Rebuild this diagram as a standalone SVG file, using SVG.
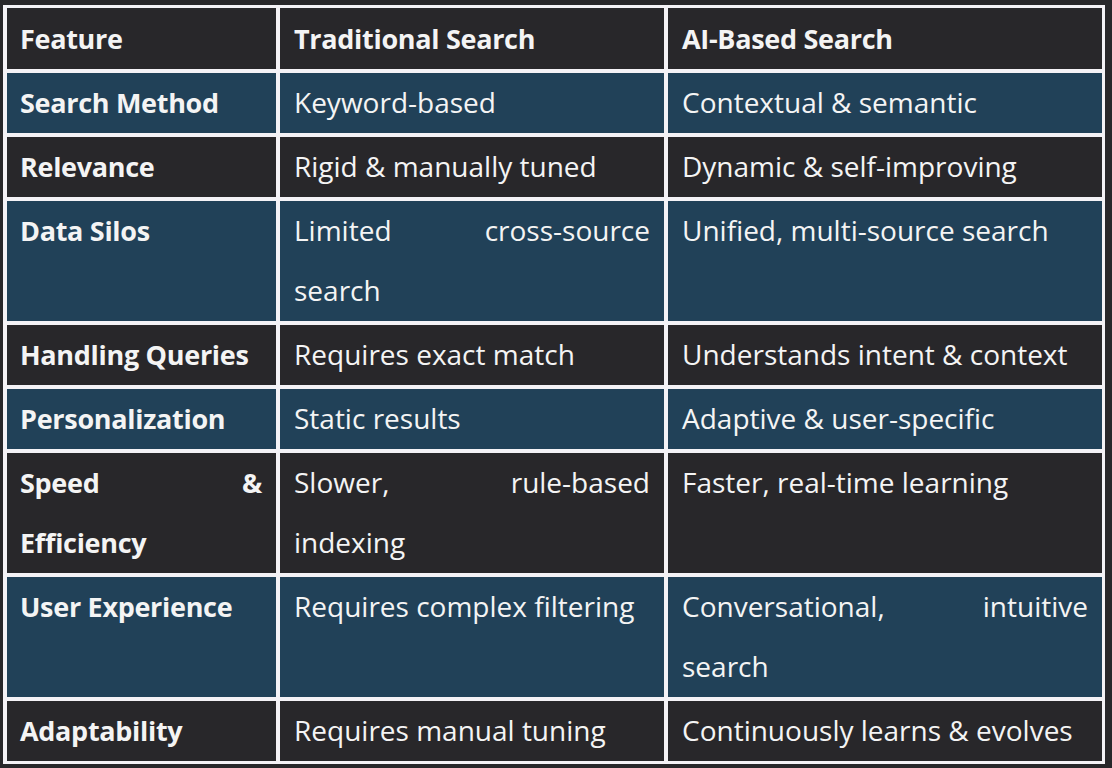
<svg xmlns="http://www.w3.org/2000/svg" width="1112" height="768" viewBox="0 0 1112 768">
<style>
.bg{fill:#28272a}
.grid{fill:#f4f2f6}
.dk{fill:#28272a}
.bl{fill:#214158}
text{font-family:"Open Sans","Noto Sans","DejaVu Sans",sans-serif;font-size:28px;fill:#f4f4f4}
.b{font-weight:bold;font-size:27px;letter-spacing:-0.3px}
.e{text-anchor:end}
</style>
<rect class="bg" x="0" y="0" width="1112" height="768"/>
<rect class="grid" x="3" y="5" width="1102" height="759"/>
<g id="header">
<rect class="dk" x="7" y="8" width="269" height="61"/>
<rect class="dk" x="280" y="8" width="384" height="61"/>
<rect class="dk" x="668" y="8" width="434" height="61"/>
<text class="b" x="20" y="49">Feature</text>
<text class="b" x="294" y="49">Traditional Search</text>
<text class="b" x="682" y="49">AI-Based Search</text>
</g>
<g id="row-search-method">
<rect class="bl" x="7" y="73" width="269" height="60"/>
<rect class="bl" x="280" y="73" width="384" height="60"/>
<rect class="bl" x="668" y="73" width="434" height="60"/>
<text class="b" x="20" y="113">Search Method</text>
<text x="294" y="113">Keyword-based</text>
<text x="682" y="113">Contextual &amp; semantic</text>
</g>
<g id="row-relevance">
<rect class="dk" x="7" y="137" width="269" height="60"/>
<rect class="dk" x="280" y="137" width="384" height="60"/>
<rect class="dk" x="668" y="137" width="434" height="60"/>
<text class="b" x="20" y="177">Relevance</text>
<text x="294" y="177">Rigid &amp; manually tuned</text>
<text x="682" y="177">Dynamic &amp; self-improving</text>
</g>
<g id="row-data-silos">
<rect class="bl" x="7" y="201" width="269" height="120"/>
<rect class="bl" x="280" y="201" width="384" height="120"/>
<rect class="bl" x="668" y="201" width="434" height="120"/>
<text class="b" x="20" y="241">Data Silos</text>
<text x="294" y="241">Limited</text>
<text class="e" x="650" y="241">cross-source</text>
<text x="294" y="301">search</text>
<text x="682" y="241">Unified, multi-source search</text>
</g>
<g id="row-handling-queries">
<rect class="dk" x="7" y="325" width="269" height="60"/>
<rect class="dk" x="280" y="325" width="384" height="60"/>
<rect class="dk" x="668" y="325" width="434" height="60"/>
<text class="b" x="20" y="365">Handling Queries</text>
<text x="294" y="365">Requires exact match</text>
<text x="682" y="365">Understands intent &amp; context</text>
</g>
<g id="row-personalization">
<rect class="bl" x="7" y="389" width="269" height="60"/>
<rect class="bl" x="280" y="389" width="384" height="60"/>
<rect class="bl" x="668" y="389" width="434" height="60"/>
<text class="b" x="20" y="429">Personalization</text>
<text x="294" y="429">Static results</text>
<text x="682" y="429">Adaptive &amp; user-specific</text>
</g>
<g id="row-speed">
<rect class="dk" x="7" y="453" width="269" height="120"/>
<rect class="dk" x="280" y="453" width="384" height="120"/>
<rect class="dk" x="668" y="453" width="434" height="120"/>
<text class="b" x="20" y="493">Speed</text>
<text class="b e" x="262" y="493">&amp;</text>
<text class="b" x="20" y="553">Efficiency</text>
<text x="294" y="493">Slower,</text>
<text class="e" x="650" y="493">rule-based</text>
<text x="294" y="553">indexing</text>
<text x="682" y="493">Faster, real-time learning</text>
</g>
<g id="row-user-experience">
<rect class="bl" x="7" y="577" width="269" height="120"/>
<rect class="bl" x="280" y="577" width="384" height="120"/>
<rect class="bl" x="668" y="577" width="434" height="120"/>
<text class="b" x="20" y="617">User Experience</text>
<text x="294" y="617">Requires complex filtering</text>
<text x="682" y="617">Conversational,</text>
<text class="e" x="1088" y="617">intuitive</text>
<text x="682" y="677">search</text>
</g>
<g id="row-adaptability">
<rect class="dk" x="7" y="701" width="269" height="60"/>
<rect class="dk" x="280" y="701" width="384" height="60"/>
<rect class="dk" x="668" y="701" width="434" height="60"/>
<text class="b" x="20" y="741">Adaptability</text>
<text x="294" y="741">Requires manual tuning</text>
<text x="682" y="741">Continuously learns &amp; evolves</text>
</g>
</svg>
